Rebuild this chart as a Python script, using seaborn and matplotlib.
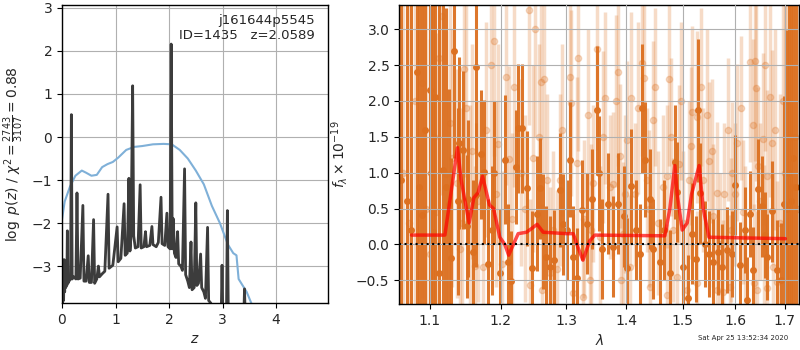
import numpy as np
import pandas as pd
import matplotlib
matplotlib.use("Agg")
import matplotlib.pyplot as plt
import seaborn as sns
from matplotlib.ticker import FixedLocator, FixedFormatter, NullLocator

# ---- p(z) panel ----
z_grid = [0.00, 0.005, 0.01, 0.02, 0.03, 0.04, 0.05, 0.06, 0.07, 0.08, 0.09, 0.10, 0.11,
          0.13, 0.16, 0.175, 0.19, 0.22, 0.26, 0.28, 0.30, 0.34, 0.39, 0.41, 0.45, 0.49,
          0.51, 0.55, 0.59, 0.61, 0.65, 0.68, 0.70, 0.75, 0.80, 0.86, 0.88, 0.95, 1.03,
          1.05, 1.10, 1.16, 1.18, 1.22, 1.25, 1.27, 1.29, 1.32, 1.34, 1.37, 1.42, 1.46,
          1.48, 1.53, 1.56, 1.58, 1.64, 1.68, 1.70, 1.76, 1.80, 1.85, 1.87, 1.92, 1.96,
          1.98, 2.02, 2.04, 2.06, 2.08, 2.10, 2.13, 2.16, 2.18, 2.22, 2.25, 2.29, 2.31,
          2.35, 2.38, 2.41, 2.43, 2.47, 2.50, 2.52, 2.55, 2.59, 2.61, 2.65, 2.68, 2.72,
          2.74, 2.78, 2.85, 2.97, 2.99, 3.01, 3.07, 3.09, 3.11, 3.39, 3.41, 3.43, 4.90]
log_pz = [-3.86, -2.85, -3.86, -2.90, -3.80, -2.85, -3.60, -3.00, -3.50, -3.30, -3.45, -2.18, -3.40,
          -3.35, -3.30, 0.52, -3.30, -3.25, -3.30, -1.30, -3.30, -3.28, -1.59, -3.35, -3.35, -2.76,
          -3.38, -3.38, -1.92, -3.40, -3.30, -3.00, -3.25, -3.18, -3.12, -1.33, -3.05, -2.98, -2.09,
          -2.90, -2.82, -1.55, -2.75, -2.70, -0.96, -2.65, -2.30, 1.19, -2.30, -2.58, -2.55, -1.11,
          -2.58, -2.55, -2.20, -2.55, -2.52, -2.08, -2.50, -2.55, -2.45, -1.40, -2.48, -2.52, -1.77,
          -2.55, -2.60, 2.16, -2.60, -1.90, -2.70, -2.80, -2.20, -2.95, -3.00, -3.10, -0.74, -3.20,
          -3.35, -3.50, -2.44, -3.55, -3.50, -1.53, -3.45, -3.40, -2.72, -3.50, -3.60, -3.75, -2.10,
          -3.80, -3.86, -4.50, -4.50, -2.98, -4.50, -4.50, -1.71, -4.50, -4.50, -3.53, -4.50, -6.00]

z_chi2 = [0.00, 0.05, 0.15, 0.25, 0.37, 0.45, 0.55, 0.65, 0.75, 0.85, 0.95, 1.05, 1.20,
          1.35, 1.50, 1.70, 1.90, 2.05, 2.20, 2.35, 2.50, 2.65, 2.80, 2.95, 3.10, 3.20,
          3.26, 3.30, 3.45, 3.55]
chi2_scaled = [-1.92, -1.50, -1.15, -0.90, -0.78, -0.83, -0.90, -0.88, -0.70, -0.63, -0.58, -0.48, -0.30,
               -0.23, -0.21, -0.17, -0.16, -0.17, -0.30, -0.50, -0.78, -1.10, -1.60, -2.00, -2.50, -2.70,
               -2.75, -3.30, -3.60, -3.90]

# ---- spectrum panel ----
lam_a = [1.062, 1.070, 1.0755, 1.083, 1.086, 1.0893, 1.093, 1.100, 1.102,
         1.1045, 1.1072, 1.1118, 1.1181, 1.122, 1.1264, 1.1296, 1.1333, 1.138, 1.1403,
         1.1459, 1.1516, 1.1534, 1.1601, 1.1639, 1.1648, 1.1715, 1.1754, 1.1816, 1.1879, 1.1908,
         1.1996, 1.2060, 1.2110, 1.2159, 1.2234, 1.2259, 1.2324, 1.2395, 1.2466, 1.2538, 1.2594,
         1.2641, 1.2682, 1.2745, 1.2813, 1.2897, 1.2955, 1.3014, 1.3062, 1.3116, 1.3170, 1.3261,
         1.3332, 1.3419, 1.3496, 1.3540, 1.3579, 1.3680, 1.3775, 1.3860, 1.3951, 1.4019, 1.4083,
         1.4164, 1.4234, 1.4274, 1.4327, 1.4409, 1.4468, 1.4587, 1.4665, 1.4767, 1.4858, 1.4901,
         1.5011, 1.5091, 1.5165, 1.5252, 1.5283, 1.5321, 1.5415, 1.5491, 1.5574, 1.5669, 1.5734,
         1.5831, 1.5928, 1.5994, 1.6092, 1.6191, 1.6238, 1.6291, 1.6358, 1.6445, 1.6526, 1.6593,
         1.6627, 1.6729, 1.6832, 1.6922, 1.6991, 1.7054, 1.7100, 1.7140, 1.7180, 1.7230]
flux_a = [0.90, 0.60, 0.20, 2.40, 0.80, 0.41, 1.60, 2.16, 1.00,
          0.17, 2.05, -0.40, 1.04, 0.80, 0.57, -0.19, 2.70, 0.60, 1.42,
          1.32, 0.25, 0.64, -0.10, 2.47, 0.69, 1.26, 1.01, -0.27, 0.20, 1.00,
          -0.40, 1.18, -0.24, -0.51, 1.08, 1.62, 1.62, 0.78, -0.33, 0.43, 0.78,
          0.18, -0.17, -0.31, -0.22, 0.76, 0.28, 0.20, 1.18, -0.17, -0.47, 0.48,
          0.29, 0.63, 1.87, 0.99, -0.06, 0.57, -0.03, 0.57, 0.39, -0.33, 0.81,
          0.20, -0.13, 1.90, 1.18, 0.63, -0.06, -0.24, 0.20, -0.40, 1.15, 0.73,
          -0.31, -0.75, 0.15, -0.20, 1.87, 0.71, 0.01, -0.13, -0.24, -0.10, -0.31,
          -0.08, -0.13, 0.83, -0.29, 0.20, -0.78, 0.43, -0.36, 0.77, 0.53, 0.13,
          -0.17, 0.46, -0.36, -0.50, 0.57, 0.49, 1.00, 0.60, 1.20, 0.80]
err_a = [4.5, 4.5, 4.5, 4.5, 4.5, 4.5, 4.5, 4.5, 4.5,
         4.5, 4.5, 4.5, 3.0, 2.5, 1.6, 1.4, 1.5, 1.3, 1.2,
         1.1, 1.0, 1.1, 1.0, 1.2, 1.0, 0.9, 1.0, 0.9, 0.9, 1.0,
         0.9, 0.9, 0.8, 0.7, 0.8, 0.9, 0.9, 0.8, 0.8, 0.8, 0.7,
         0.8, 0.7, 0.7, 0.7, 0.8, 0.7, 0.7, 0.8, 0.7, 0.7, 0.7,
         0.7, 0.7, 0.9, 0.8, 0.7, 0.7, 0.7, 0.7, 0.7, 0.7, 0.8,
         0.7, 0.7, 0.9, 0.8, 0.7, 0.7, 0.6, 0.7, 0.6, 0.8, 0.7,
         0.6, 0.6, 0.7, 0.6, 1.0, 0.7, 0.6, 0.6, 0.6, 0.6, 0.6,
         0.6, 0.6, 0.7, 0.6, 0.6, 0.6, 0.6, 0.6, 0.7, 0.7, 0.6,
         0.6, 0.7, 0.7, 0.8, 1.5, 2.5, 4.5, 4.5, 4.5, 4.5]

lam_b = [1.0888, 1.1000, 1.1090, 1.1172, 1.1227, 1.1270, 1.1366, 1.1408, 1.1473, 1.1552, 1.1670,
         1.1745, 1.1790, 1.1894, 1.1927, 1.2022, 1.2079, 1.2117, 1.2167, 1.2308, 1.2425, 1.2435,
         1.2487, 1.2518, 1.2612, 1.2617, 1.2693, 1.2796, 1.2850, 1.2902, 1.3059, 1.3086, 1.3113,
         1.3178, 1.3273, 1.3290, 1.3357, 1.3384, 1.3440, 1.3496, 1.3551, 1.3643, 1.3720, 1.3775,
         1.3863, 1.3891, 1.3900, 1.3946, 1.4004, 1.4060, 1.4083, 1.4147, 1.4275, 1.4304, 1.4350,
         1.4409, 1.4468, 1.4558, 1.4647, 1.4708, 1.4720, 1.4757, 1.4830, 1.4890, 1.4939, 1.5011,
         1.5073, 1.5160, 1.5179, 1.5258, 1.5270, 1.5384, 1.5448, 1.5493, 1.5574, 1.5639, 1.5650,
         1.5767, 1.5780, 1.5895, 1.5910, 1.5928, 1.6040, 1.6157, 1.6291, 1.6358, 1.6370, 1.6391,
         1.6405, 1.6425, 1.6490, 1.6558, 1.6570, 1.6627, 1.6640, 1.6694, 1.6749, 1.6763, 1.6852,
         1.6900, 1.6970, 1.7110,
         1.065, 1.072, 1.080, 1.095, 1.105, 1.113, 1.131, 1.144, 1.150, 1.158, 1.163,
         1.185, 1.196, 1.220, 1.236, 1.257, 1.266, 1.275, 1.294, 1.320, 1.340, 1.360,
         1.382, 1.398, 1.420, 1.440, 1.450, 1.478, 1.497, 1.512, 1.535, 1.555, 1.570,
         1.585, 1.600, 1.612, 1.620, 1.645, 1.660, 1.680, 1.700, 1.705, 1.715, 1.722, 1.728]
flux_b = [2.25, -0.13, 0.45, 3.19, 0.98, 1.70, 0.85, -0.07, 2.44, 0.55, 0.60,
          -0.31, 1.60, 2.83, 0.70, -0.27, 2.33, 1.19, 0.35, 1.00, 3.27, -0.57,
          1.20, 3.00, 2.27, -0.64, 0.90, 0.20, -0.34, 0.90, 2.33, 1.97, -0.68,
          1.14, -0.73, 0.35, 1.80, -0.50, 0.85, 2.72, 0.10, 2.04, 0.80, 0.84,
          2.40, 1.23, -0.50, 0.15, 1.46, -0.31, 2.04, 0.70, 2.53, 2.32, 0.90,
          -0.59, 1.74, 0.30, 0.80, -0.71, 0.95, 2.30, 0.20, -0.45, 1.12, 0.30,
          -0.64, 1.37, 1.84, 1.78, -0.54, 0.90, 1.80, 1.16, 0.40, 0.71, -0.64,
          -0.66, 0.70, -0.59, 0.20, 0.99, 1.42, 0.45, 2.55, 1.66, -0.54, 2.56,
          2.18, -0.64, 0.60, 1.47, 0.01, -0.61, 0.95, 2.06, 1.41, -0.31, -0.52,
          0.30, 2.00, 1.50,
          1.00, 0.30, 2.00, 0.50, 1.50, 2.60, 1.20, 0.30, 1.90, 1.30, -0.30,
          2.50, 1.40, 2.20, 0.50, 1.50, 2.30, -0.40, 1.60, 2.60, 0.20, 1.50,
          2.00, 0.70, 1.90, 0.50, 2.20, 1.50, 2.00, 0.90, 2.20, 1.30, 0.00,
          1.60, 0.70, 1.90, 0.10, 1.10, 2.50, 1.60, 1.00, 2.00, 0.80, 1.50, 0.50]
err_b = [3.0, 3.0, 2.5, 2.5, 2.0, 1.8, 1.6, 1.5, 1.5, 1.4, 1.4,
         1.3, 1.5, 1.6, 1.3, 1.3, 1.5, 1.3, 1.2, 1.3, 1.6, 1.2,
         1.3, 1.5, 1.4, 1.2, 1.2, 1.1, 1.1, 1.2, 1.4, 1.3, 1.1,
         1.2, 1.1, 1.1, 1.2, 1.0, 1.1, 1.4, 1.0, 1.2, 1.0, 1.0,
         1.3, 1.0, 1.0, 1.0, 1.1, 1.0, 1.2, 1.0, 1.3, 1.2, 1.0,
         1.0, 1.1, 1.0, 1.0, 1.0, 1.0, 1.2, 1.0, 1.0, 1.1, 1.0,
         1.0, 1.1, 1.2, 1.2, 1.0, 1.0, 1.2, 1.1, 1.0, 1.0, 1.0,
         1.0, 1.0, 1.0, 1.0, 1.0, 1.1, 1.0, 1.4, 1.2, 1.1, 1.4,
         1.3, 1.1, 1.1, 1.2, 1.1, 1.1, 1.2, 1.4, 1.3, 1.3, 1.4,
         1.8, 2.5, 3.0,
         4.0, 4.0, 4.0, 4.0, 3.0, 2.5, 1.8, 1.6, 1.6, 1.5, 1.4,
         1.5, 1.4, 1.4, 1.3, 1.3, 1.3, 1.2, 1.2, 1.3, 1.2, 1.2,
         1.2, 1.1, 1.2, 1.1, 1.1, 1.1, 1.1, 1.1, 1.1, 1.0, 1.0,
         1.0, 1.0, 1.0, 1.0, 1.1, 1.2, 1.4, 3.0, 3.0, 4.0, 4.0, 4.0]

lam_model = [1.0755, 1.1205, 1.1380, 1.1430, 1.1543, 1.1610, 1.1670, 1.1735, 1.1835, 1.1894,
             1.1986, 1.2060, 1.2117, 1.2259, 1.2385, 1.2460, 1.2548, 1.2641, 1.3008, 1.3116,
             1.3197, 1.3273, 1.3384, 1.3468, 1.4677, 1.4767, 1.4858, 1.4901, 1.4993, 1.5085,
             1.5165, 1.5308, 1.5384, 1.5493, 1.7017]
flux_model = [0.13, 0.13, 1.35, 0.90, 0.30, 0.65, 0.72, 0.95, 0.55, 0.50,
              0.10, 0.00, -0.15, 0.15, 0.17, 0.22, 0.28, 0.17, 0.15, 0.15,
              -0.05, -0.22, 0.05, 0.13, 0.12, 0.50, 1.10, 0.70, 0.20, 0.30,
              0.70, 1.10, 0.50, 0.10, 0.08]

lam_ticks = [1.1, 1.2, 1.3, 1.4, 1.5, 1.6, 1.7]

dark = "#dc7020"

sns.set_style("ticks")
plt.rcParams["font.family"] = ["DejaVu Sans"]

fig = plt.figure(figsize=(8, 3.5), dpi=100)
ax1 = fig.add_axes([0.0775, 0.134, 0.3325, 0.852])
ax2 = fig.add_axes([0.499, 0.131, 0.500, 0.855])

# left: log p(z)
df_pz = pd.DataFrame({"z": z_grid, "logp": log_pz})
df_chi = pd.DataFrame({"z": z_chi2, "chi": chi2_scaled})
sns.lineplot(data=df_chi, x="z", y="chi", ax=ax1, color="#7fb0d8", lw=1.5,
             sort=False, estimator=None)
sns.lineplot(data=df_pz, x="z", y="logp", ax=ax1, color="#3c3c3c", lw=2,
             sort=False, estimator=None)
ax1.set_xlim(0, 4.97)
ax1.set_ylim(-3.86, 3.07)
ax1.set_xticks([0, 1, 2, 3, 4])
ax1.set_yticks([-3, -2, -1, 0, 1, 2, 3])
ax1.grid(True, color="#b0b0b0", lw=0.8)
ax1.set_xlabel(r"$z$")
ax1.set_ylabel(r"$\log\ p(z)$ / $\chi^2=\frac{2743}{3107}=0.88$")
ax1.text(0.95, 0.97, "j161644p5545\nID=1435   z=2.0589", transform=ax1.transAxes,
         ha="right", va="top", fontsize=9.5)

# right: spectrum
ax2.errorbar(lam_b, flux_b, yerr=err_b, fmt="o", color=dark, alpha=0.25,
             ms=4.5, elinewidth=2.5, capsize=0, zorder=1)
ax2.errorbar(lam_a, flux_a, yerr=err_a, fmt="o", color=dark, alpha=0.95,
             ms=4, elinewidth=2.2, capsize=0, zorder=2)
df_model = pd.DataFrame({"lam": lam_model, "flux": flux_model})
sns.lineplot(data=df_model, x="lam", y="flux", ax=ax2, color="red", lw=2.5,
             alpha=0.7, sort=False, estimator=None, zorder=3)
ax2.axhline(0, color="black", ls=":", lw=1.5, zorder=4)
ax2.set_xscale("log")
ax2.set_xlim(1.0594, 1.7307)
ax2.set_ylim(-0.833, 3.34)
ax2.xaxis.set_major_locator(FixedLocator(lam_ticks))
ax2.xaxis.set_major_formatter(FixedFormatter([f"{t:.1f}" for t in lam_ticks]))
ax2.xaxis.set_minor_locator(NullLocator())
ax2.set_yticks([-0.5, 0.0, 0.5, 1.0, 1.5, 2.0, 2.5, 3.0])
ax2.set_axisbelow(False)
ax2.grid(True, color="#b0b0b0", lw=0.8, zorder=5)
ax2.set_xlabel(r"$\lambda$")
ax2.set_ylabel(r"$f_\lambda \times 10^{-19}$")

for ax in (ax1, ax2):
    for sp in ax.spines.values():
        sp.set_color("black")
        sp.set_linewidth(1)
    ax.tick_params(labelsize=10, length=3.5, color="black")

fig.text(0.985, 0.025, "Sat Apr 25 13:52:34 2020", ha="right", va="bottom", fontsize=5)

fig.savefig("out.png", dpi=100)
